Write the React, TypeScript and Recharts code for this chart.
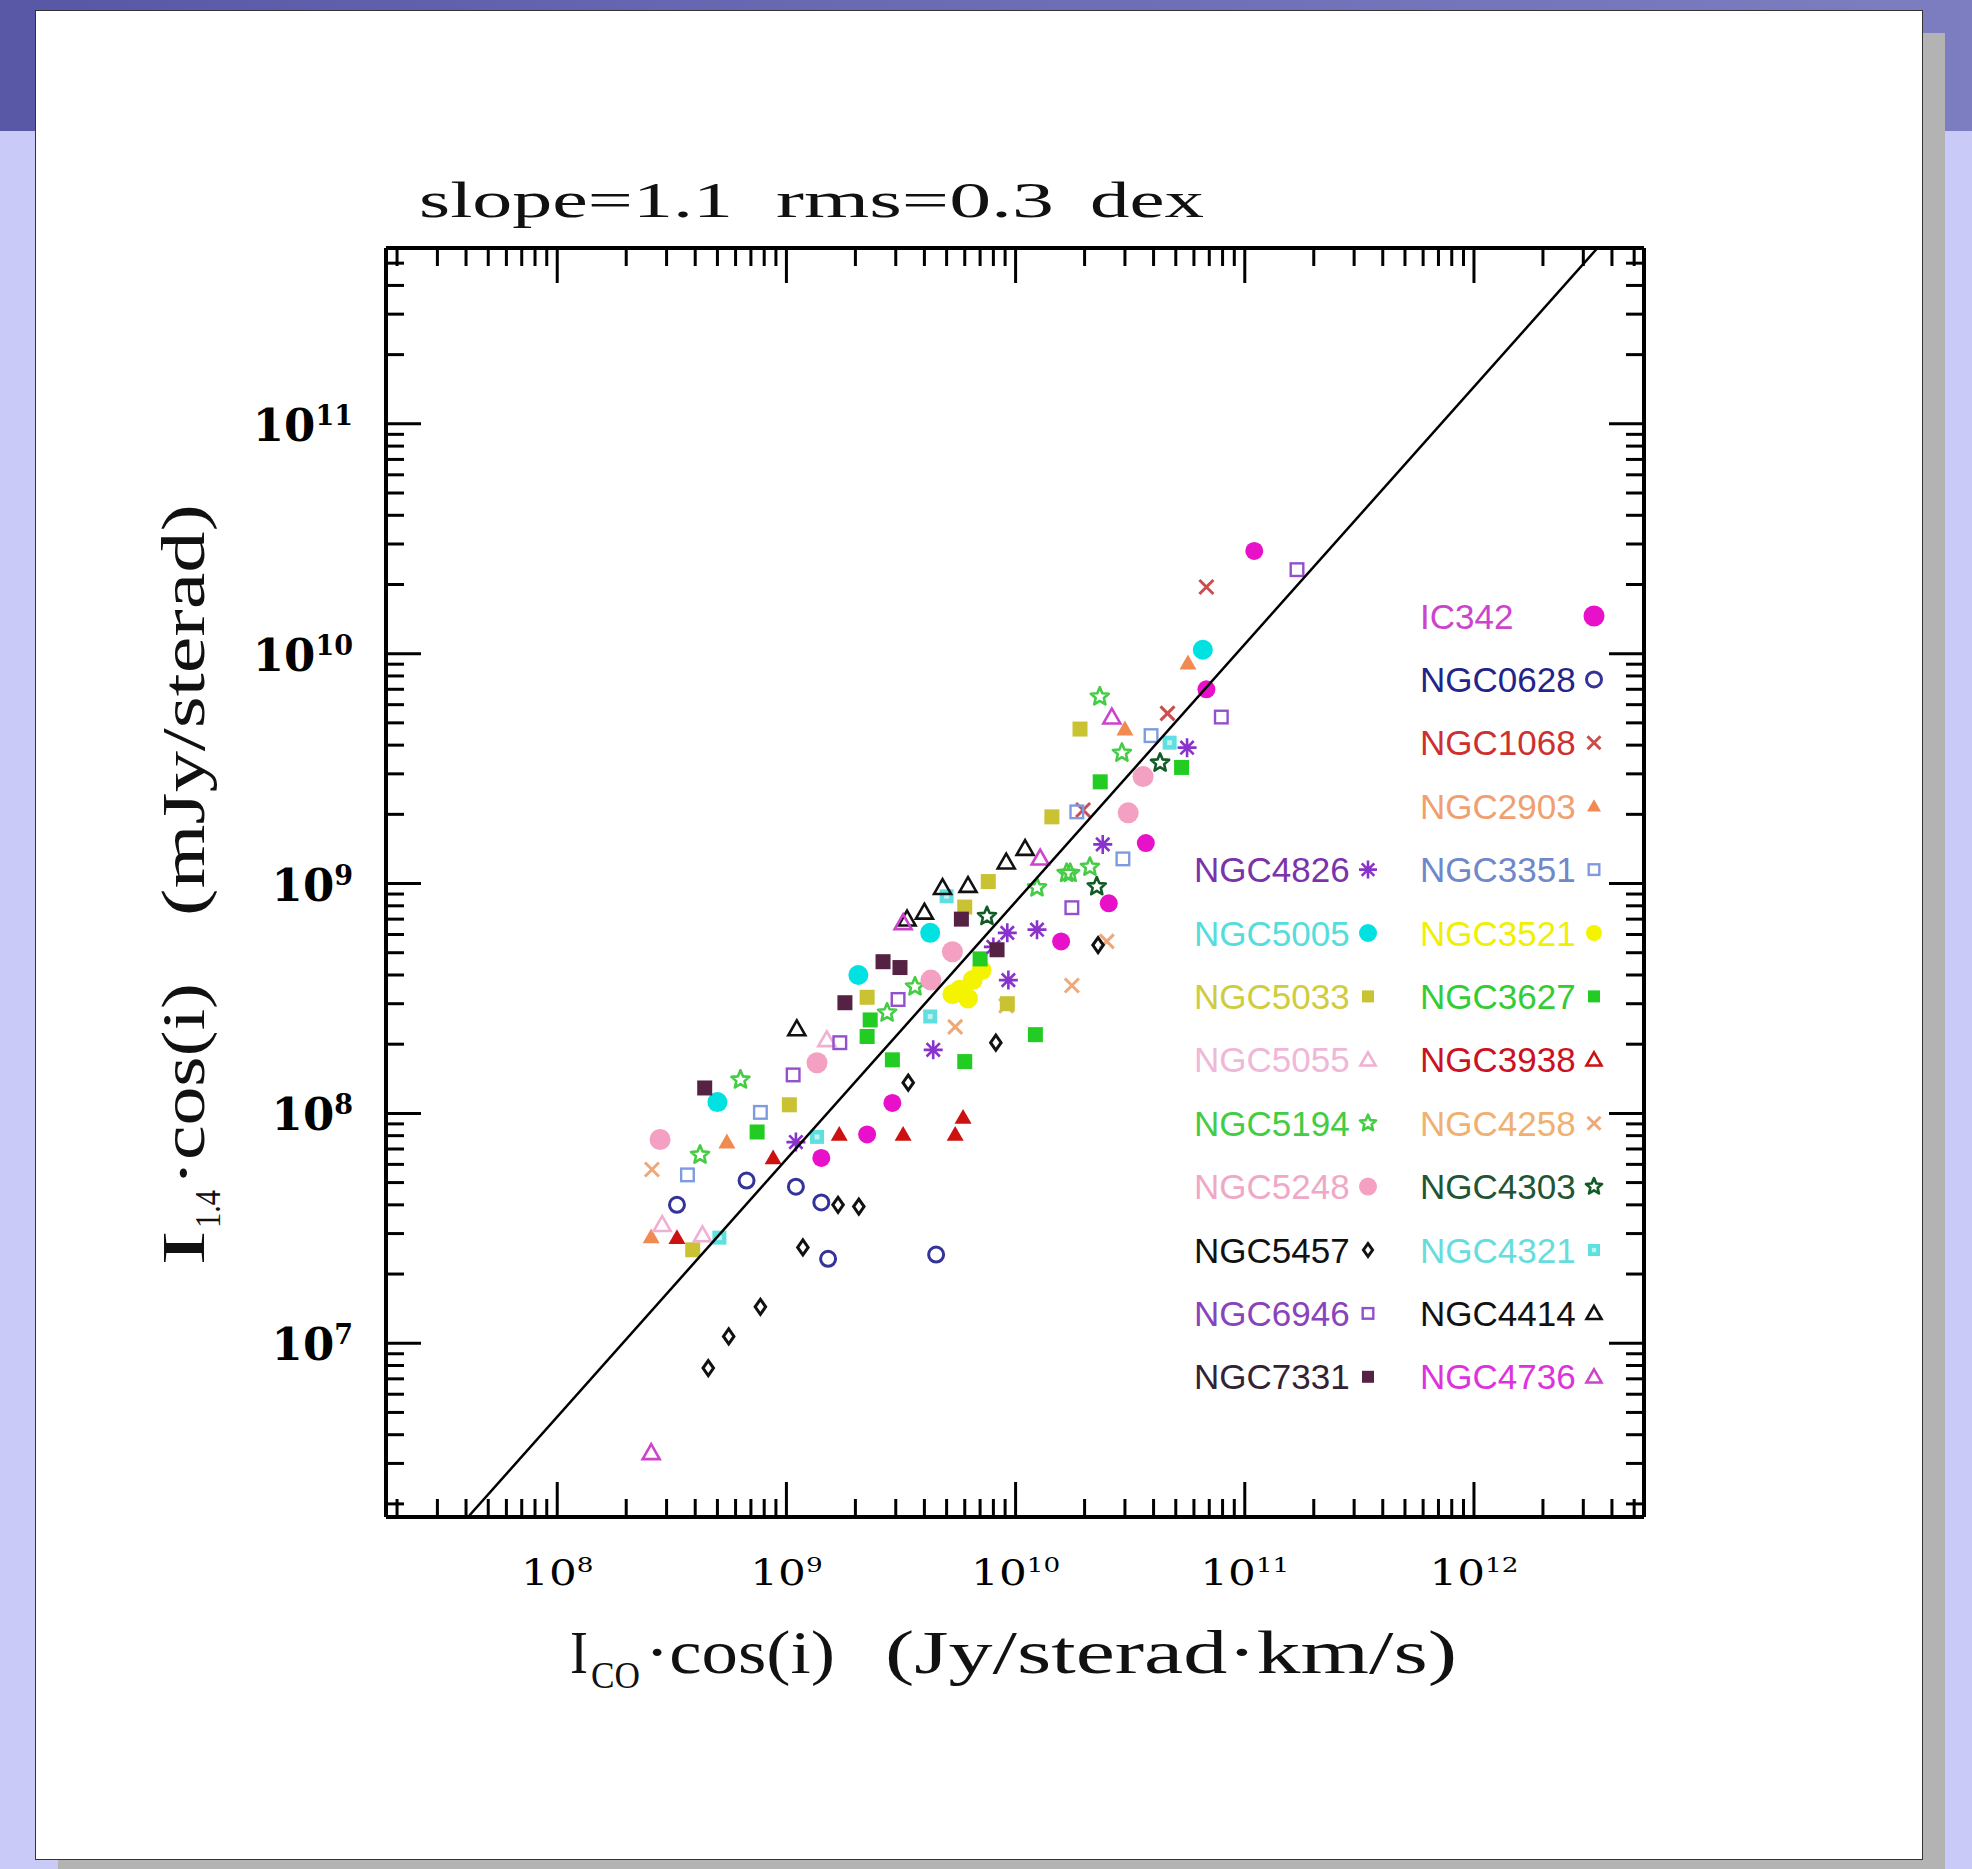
import React from 'react';
import { ScatterChart, Scatter, XAxis, YAxis } from 'recharts';

// ---------- data: [I_CO cos(i) (Jy/sterad km/s), I_1.4 cos(i) (mJy/sterad)] ----------
const IC342 = [[1.1e11, 2.8e10], [6.8e10, 7.0e9], [3.7e10, 1.5e9], [2.55e10, 8.2e8], [1.58e10, 5.6e8], [2.9e9, 1.11e8], [2.25e9, 8.1e7], [1.42e9, 6.4e7]];
const NGC0628 = [[3.33e8, 4.0e7], [6.7e8, 5.1e7], [1.1e9, 4.8e7], [1.42e9, 4.1e7], [1.52e9, 2.33e7], [4.5e9, 2.43e7]];
const NGC1068 = [[6.8e10, 1.95e10], [4.6e10, 5.5e9], [1.97e10, 2.09e9]];
const NGC2903 = [[2.57e8, 2.9e7], [5.5e8, 7.5e7], [5.65e10, 9.1e9], [3.0e10, 4.7e9]];
const NGC3351 = [[3.7e8, 5.4e7], [7.7e8, 1.01e8], [3.9e10, 4.4e9], [1.85e10, 2.05e9], [2.94e10, 1.28e9]];
const NGC3521 = [[5.7e9, 3.45e8], [6.5e9, 3.8e8], [5.3e9, 3.3e8], [6.2e9, 3.16e8], [7.1e9, 4.2e8]];
const NGC3627 = [[7.45e8, 8.3e7], [2.25e9, 2.16e8], [2.9e9, 1.71e8], [6.0e9, 1.68e8], [1.22e10, 2.2e8], [5.3e10, 3.2e9], [7.0e9, 4.7e8], [2.32e9, 2.55e8], [2.34e10, 2.77e9]];
const NGC3938 = [[3.33e8, 2.88e7], [8.75e8, 6.4e7], [1.7e9, 8.1e7], [3.23e9, 8.1e7], [5.45e9, 8.1e7], [5.9e9, 9.6e7]];
const NGC4258 = [[2.59e8, 5.7e7], [1.76e10, 3.6e8], [2.5e10, 5.6e8], [5.45e9, 2.38e8], [9.1e9, 2.94e8]];
const NGC4303 = [[4.27e10, 3.35e9], [2.26e10, 9.7e8], [7.5e9, 7.2e8]];
const NGC4321 = [[5.1e8, 2.88e7], [1.36e9, 7.9e7], [4.24e9, 2.64e8], [4.7e10, 4.1e9], [5.0e9, 8.8e8]];
const NGC4414 = [[1.11e9, 2.33e8], [3.36e9, 7.0e8], [4.0e9, 7.5e8], [4.8e9, 9.6e8], [6.2e9, 9.8e8], [9.1e9, 1.24e9], [1.1e10, 1.42e9]];
const NGC4736 = [[2.57e8, 3.34e6], [2.63e10, 5.3e9], [3.23e9, 6.75e8], [1.28e10, 1.29e9]];
const NGC4826 = [[1.1e9, 7.5e7], [4.37e9, 1.89e8], [9.3e9, 3.8e8], [2.4e10, 1.48e9], [5.6e10, 3.9e9], [1.24e10, 6.3e8], [9.2e9, 6.1e8], [8.0e9, 5.3e8]];
const NGC5005 = [[5.0e8, 1.12e8], [2.06e9, 4.0e8], [4.24e9, 6.1e8], [6.56e10, 1.04e10]];
const NGC5033 = [[3.9e8, 2.55e7], [1.03e9, 1.09e8], [2.25e9, 3.2e8], [7.6e9, 1.02e9], [1.44e10, 1.95e9], [1.91e10, 4.7e9], [9.2e9, 3.0e8], [6.0e9, 7.9e8]];
const NGC5055 = [[2.87e8, 3.28e7], [4.3e8, 2.96e7], [1.5e9, 2.09e8]];
const NGC5194 = [[6.3e8, 1.4e8], [4.2e8, 6.6e7], [2.33e10, 6.5e9], [2.91e10, 3.7e9], [1.67e10, 1.11e9], [2.11e10, 1.18e9], [1.24e10, 9.6e8], [1.73e10, 1.11e9], [2.75e9, 2.74e8], [3.64e9, 3.56e8]];
const NGC5248 = [[2.81e8, 7.7e7], [1.36e9, 1.66e8], [3.1e10, 2.03e9], [3.6e10, 2.92e9], [5.3e9, 5.05e8], [4.27e9, 3.8e8]];
const NGC5457 = [[4.56e8, 7.8e6], [5.6e8, 1.07e7], [7.7e8, 1.44e7], [1.18e9, 2.61e7], [1.68e9, 4.0e7], [2.07e9, 3.93e7], [3.4e9, 1.36e8], [8.2e9, 2.03e8], [2.29e10, 5.4e8]];
const NGC6946 = [[1.69e11, 2.32e10], [7.9e10, 5.3e9], [1.76e10, 7.85e8], [1.71e9, 2.03e8], [1.07e9, 1.47e8], [3.07e9, 3.13e8]];
const NGC7331 = [[4.4e8, 1.29e8], [1.8e9, 3.03e8], [2.64e9, 4.57e8], [3.13e9, 4.31e8], [5.8e9, 7.0e8], [8.3e9, 5.15e8]];

// fitted relation (slope=1.1), end points where it meets the frame
const FIT_LINE = [[4.08e7, 1.754e6], [3.46e12, 5.82e11]];

// axis ranges and ticks
const X_DOMAIN = [1.79e7, 5.52e12];
const Y_DOMAIN = [1.754e6, 5.82e11];
const X_EXPONENTS = [7, 8, 9, 10, 11, 12];
const Y_EXPONENTS = [6, 7, 8, 9, 10, 11];
const MANTISSAS = [1, 2, 3, 4, 5, 6, 7, 8, 9];

const TITLE_WORDS = ['slope=1.1', 'rms=0.3', 'dex'];

// ---------- styles ----------
const W = 1972;
const H = 1869;
const PLOT = { left: 386, right: 1644, top: 248, bottom: 1517 };
const AX = 10;

const SERIES = [
  { name: 'IC342', data: IC342, kind: 'fcircle', color: '#e810c8', text: '#cc44cc', col: 1, row: 0, size: 18, lsize: 21 },
  { name: 'NGC0628', data: NGC0628, kind: 'ocircle', color: '#333399', text: '#23238a', col: 1, row: 1, size: 18, lsize: 18 },
  { name: 'NGC1068', data: NGC1068, kind: 'cross', color: '#cc4d4d', text: '#cc3030', col: 1, row: 2, size: 14, lsize: 13 },
  { name: 'NGC2903', data: NGC2903, kind: 'ftri', color: '#f08a50', text: '#f0a070', col: 1, row: 3, size: 17, lsize: 14 },
  { name: 'NGC3351', data: NGC3351, kind: 'osq', color: '#7f9be0', text: '#7088c8', col: 1, row: 4, size: 15, lsize: 13 },
  { name: 'NGC3521', data: NGC3521, kind: 'fcircle', color: '#f4f400', text: '#f0f000', col: 1, row: 5, size: 20, lsize: 16 },
  { name: 'NGC3627', data: NGC3627, kind: 'fsq', color: '#22cc22', text: '#33cc33', col: 1, row: 6, size: 15, lsize: 12 },
  { name: 'NGC3938', data: NGC3938, kind: 'ftri', color: '#cc1111', text: '#cc1122', col: 1, row: 7, size: 17, lsize: 15, legendKind: 'otri' },
  { name: 'NGC4258', data: NGC4258, kind: 'cross', color: '#f0a878', text: '#f0b070', col: 1, row: 8, size: 14, lsize: 13 },
  { name: 'NGC4303', data: NGC4303, kind: 'ostar', color: '#125a26', text: '#225533', col: 1, row: 9, size: 19, lsize: 17 },
  { name: 'NGC4321', data: NGC4321, kind: 'cmd', color: '#5fe0e0', text: '#66dddd', col: 1, row: 10, size: 14, lsize: 12 },
  { name: 'NGC4414', data: NGC4414, kind: 'otri', color: '#111111', text: '#111111', col: 1, row: 11, size: 17, lsize: 15 },
  { name: 'NGC4736', data: NGC4736, kind: 'otri', color: '#cc44cc', text: '#dd33dd', col: 1, row: 12, size: 17, lsize: 15 },
  { name: 'NGC4826', data: NGC4826, kind: 'aster', color: '#8a33cc', text: '#7a33aa', col: 0, row: 4, size: 19, lsize: 18 },
  { name: 'NGC5005', data: NGC5005, kind: 'fcircle', color: '#00e2e2', text: '#55dddd', col: 0, row: 5, size: 20, lsize: 18 },
  { name: 'NGC5033', data: NGC5033, kind: 'fsq', color: '#c9c232', text: '#d0cc40', col: 0, row: 6, size: 15, lsize: 12 },
  { name: 'NGC5055', data: NGC5055, kind: 'otri', color: '#f0b0d4', text: '#f0b8d8', col: 0, row: 7, size: 17, lsize: 15 },
  { name: 'NGC5194', data: NGC5194, kind: 'ostar', color: '#44cc44', text: '#44cc44', col: 0, row: 8, size: 19, lsize: 17 },
  { name: 'NGC5248', data: NGC5248, kind: 'fcircle', color: '#f3a0c2', text: '#f0a8c8', col: 0, row: 9, size: 21, lsize: 18 },
  { name: 'NGC5457', data: NGC5457, kind: 'diamond', color: '#111111', text: '#111111', col: 0, row: 10, size: 15, lsize: 13 },
  { name: 'NGC6946', data: NGC6946, kind: 'osq', color: '#9350cc', text: '#8844bb', col: 0, row: 11, size: 15, lsize: 13 },
  { name: 'NGC7331', data: NGC7331, kind: 'fsq', color: '#552244', text: '#332233', col: 0, row: 12, size: 15, lsize: 12 },
];

const LEGEND_ROW0 = 616;
const LEGEND_STEP = 63.4;
const LEGEND_TEXT_X = [1194, 1420];
const LEGEND_SYM_X = [1368, 1594];

const MAJOR_LEN = 35;
const MINOR_LEN = 18;

// ---------- helpers ----------
const buildTicks = (exps: number[], lo: number, hi: number) => {
  const out: number[] = [];
  exps.forEach((e) => MANTISSAS.forEach((m) => {
    const v = m * Math.pow(10, e);
    if (v >= lo && v <= hi) out.push(v);
  }));
  return out;
};
const X_TICKS = buildTicks(X_EXPONENTS, X_DOMAIN[0], X_DOMAIN[1]);
const Y_TICKS = buildTicks(Y_EXPONENTS, Y_DOMAIN[0], Y_DOMAIN[1]);

const isMajor = (v: number) => {
  const l = Math.log10(v);
  return Math.abs(l - Math.round(l)) < 1e-6;
};
const expOf = (v: number) => Math.round(Math.log10(v));

function starPath(cx: number, cy: number, R: number) {
  const r = R * 0.45;
  let d = '';
  for (let i = 0; i < 10; i++) {
    const a = -Math.PI / 2 + (i * Math.PI) / 5;
    const rad = i % 2 === 0 ? R : r;
    d += `${i === 0 ? 'M' : 'L'}${cx + rad * Math.cos(a)},${cy + rad * Math.sin(a)}`;
  }
  return d + 'Z';
}

function Marker({ kind, color, cx, cy, s }: any) {
  if (cx == null || cy == null) return <g />;
  const h = s / 2;
  switch (kind) {
    case 'fcircle':
      return <circle cx={cx} cy={cy} r={h} fill={color} />;
    case 'ocircle':
      return <circle cx={cx} cy={cy} r={h - 1.5} fill="none" stroke={color} strokeWidth={3} />;
    case 'cross':
      return (
        <path d={`M${cx - h},${cy - h}L${cx + h},${cy + h}M${cx - h},${cy + h}L${cx + h},${cy - h}`} stroke={color} strokeWidth={3} fill="none" />
      );
    case 'ftri':
      return <path d={`M${cx},${cy - h}L${cx + h},${cy + h * 0.75}L${cx - h},${cy + h * 0.75}Z`} fill={color} />;
    case 'otri':
      return (
        <path d={`M${cx},${cy - h}L${cx + h},${cy + h * 0.75}L${cx - h},${cy + h * 0.75}Z`} fill="none" stroke={color} strokeWidth={2.6} strokeLinejoin="miter" />
      );
    case 'fsq':
      return <rect x={cx - h} y={cy - h} width={s} height={s} fill={color} />;
    case 'osq':
      return <rect x={cx - h + 1.2} y={cy - h + 1.2} width={s - 2.4} height={s - 2.4} fill="none" stroke={color} strokeWidth={2.4} />;
    case 'ostar':
      return <path d={starPath(cx, cy, h)} fill="none" stroke={color} strokeWidth={2.6} strokeLinejoin="round" />;
    case 'aster':
      return (
        <path
          d={`M${cx - h},${cy}L${cx + h},${cy}M${cx},${cy - h}L${cx},${cy + h}M${cx - h * 0.7},${cy - h * 0.7}L${cx + h * 0.7},${cy + h * 0.7}M${cx - h * 0.7},${cy + h * 0.7}L${cx + h * 0.7},${cy - h * 0.7}`}
          stroke={color}
          strokeWidth={2.6}
          fill="none"
        />
      );
    case 'diamond':
      return <path d={`M${cx},${cy - h}L${cx + h * 0.7},${cy}L${cx},${cy + h}L${cx - h * 0.7},${cy}Z`} fill="none" stroke={color} strokeWidth={3} />;
    case 'cmd':
      return (
        <g>
          <rect x={cx - h} y={cy - h} width={s} height={s} fill={color} />
          <rect x={cx - h * 0.35} y={cy - h * 0.35} width={s * 0.35} height={s * 0.35} fill="#ffffff" opacity={0.6} />
        </g>
      );
    default:
      return <g />;
  }
}

// ---------- axis ticks (drawn inward, all four sides) ----------
const BottomTick = (props: any) => {
  const { x, y, payload } = props;
  const v = payload.value;
  const major = isMajor(v);
  return (
    <g>
      <line x1={x} x2={x} y1={y} y2={y - (major ? MAJOR_LEN : MINOR_LEN)} stroke="#000" strokeWidth={3} />
      {major && (
        <g transform={`translate(${x},${y + 68}) scale(1.25,1)`}>
          <text x={0} y={0} textAnchor="middle" fontFamily="DejaVu Serif" fontSize={35} fill="#000">
            10<tspan dy={-13} fontSize={21}>{expOf(v)}</tspan>
          </text>
        </g>
      )}
    </g>
  );
};

const TopTick = (props: any) => {
  const { x, y, payload } = props;
  const major = isMajor(payload.value);
  return <line x1={x} x2={x} y1={y} y2={y + (major ? MAJOR_LEN : MINOR_LEN)} stroke="#000" strokeWidth={3} />;
};

const LeftTick = (props: any) => {
  const { x, y, payload } = props;
  const v = payload.value;
  const major = isMajor(v);
  return (
    <g>
      <line x1={x} x2={x + (major ? MAJOR_LEN : MINOR_LEN)} y1={y} y2={y} stroke="#000" strokeWidth={3} />
      {major && (
        <text x={x - 33} y={y + 17} textAnchor="end" fontFamily="DejaVu Serif" fontWeight="bold" fontSize={45} fill="#000">
          10<tspan dy={-16} fontSize={27}>{expOf(v)}</tspan>
        </text>
      )}
    </g>
  );
};

const RightTick = (props: any) => {
  const { x, y, payload } = props;
  const major = isMajor(payload.value);
  return <line x1={x} x2={x - (major ? MAJOR_LEN : MINOR_LEN)} y1={y} y2={y} stroke="#000" strokeWidth={3} />;
};

const toPoints = (arr: number[][]) => arr.map(([x, y]) => ({ x, y }));

export default function App() {
  const axisLine = { stroke: '#000', strokeWidth: 4 };
  return (
    <div style={{ position: 'absolute', left: 0, top: 0, width: W, height: H, overflow: 'hidden', background: '#cacaf8' }}>
      {/* slide background */}
      <div style={{ position: 'absolute', left: 0, top: 0, width: W, height: 131, background: 'linear-gradient(90deg, #5757a6 0%, #6c6cb6 50%, #7d7dc1 100%)' }} />
      <div style={{ position: 'absolute', left: 58, top: 33, width: 1887, height: 1850, background: '#b3b3b3' }} />
      <div style={{ position: 'absolute', left: 35, top: 10, width: 1886, height: 1848, background: '#ffffff', border: '1px solid #333' }} />

      <div style={{ position: 'absolute', left: 0, top: 0 }}>
        <ScatterChart
          width={W}
          height={H}
          margin={{ top: PLOT.top - AX, bottom: H - PLOT.bottom - AX, left: PLOT.left - AX, right: W - PLOT.right - AX }}
        >
          <XAxis xAxisId="b" orientation="bottom" type="number" dataKey="x" scale="log" domain={X_DOMAIN} allowDataOverflow ticks={X_TICKS} interval={0} height={AX} tickSize={0} tickMargin={0} tickLine={false} axisLine={axisLine} tick={<BottomTick />} />
          <XAxis xAxisId="t" orientation="top" type="number" dataKey="x" scale="log" domain={X_DOMAIN} allowDataOverflow ticks={X_TICKS} interval={0} height={AX} tickSize={0} tickMargin={0} tickLine={false} axisLine={axisLine} tick={<TopTick />} />
          <YAxis yAxisId="l" orientation="left" type="number" dataKey="y" scale="log" domain={Y_DOMAIN} allowDataOverflow ticks={Y_TICKS} interval={0} width={AX} tickSize={0} tickMargin={0} tickLine={false} axisLine={axisLine} tick={<LeftTick />} />
          <YAxis yAxisId="r" orientation="right" type="number" dataKey="y" scale="log" domain={Y_DOMAIN} allowDataOverflow ticks={Y_TICKS} interval={0} width={AX} tickSize={0} tickMargin={0} tickLine={false} axisLine={axisLine} tick={<RightTick />} />

          {SERIES.map((s) => (
            <Scatter
              key={s.name}
              name={s.name}
              xAxisId="b"
              yAxisId="l"
              data={toPoints(s.data)}
              isAnimationActive={false}
              shape={(p: any) => <Marker kind={s.kind} color={s.color} cx={p.cx} cy={p.cy} s={s.size} />}
            />
          ))}
          <Scatter
            name="fit"
            xAxisId="b"
            yAxisId="l"
            data={toPoints(FIT_LINE)}
            isAnimationActive={false}
            line={{ stroke: '#000', strokeWidth: 2.5 }}
            shape={() => <g />}
          />
          {/* invisible series bound to the top/right axes */}
          <Scatter name="frame" xAxisId="t" yAxisId="r" data={toPoints(FIT_LINE)} isAnimationActive={false} shape={() => <g />} />
        </ScatterChart>
      </div>

      {/* titles and legend */}
      <svg width={W} height={H} style={{ position: 'absolute', left: 0, top: 0, pointerEvents: 'none' }}>
        <g fontFamily="Liberation Serif" fill="#111">
          <text x={419} y={217} fontSize={50} textLength={314} lengthAdjust="spacingAndGlyphs">{TITLE_WORDS[0]}</text>
          <text x={776} y={217} fontSize={50} textLength={278} lengthAdjust="spacingAndGlyphs">{TITLE_WORDS[1]}</text>
          <text x={1090} y={217} fontSize={50} textLength={114} lengthAdjust="spacingAndGlyphs">{TITLE_WORDS[2]}</text>

          {/* x-axis title */}
          <text x={570} y={1673} fontSize={62} textLength={18} lengthAdjust="spacingAndGlyphs">I</text>
          <text x={591} y={1688} fontSize={38} textLength={49} lengthAdjust="spacingAndGlyphs">CO</text>
          <text x={645} y={1673} fontSize={62} textLength={190} lengthAdjust="spacingAndGlyphs">·cos(i)</text>
          <text x={885} y={1673} fontSize={62} textLength={572} lengthAdjust="spacingAndGlyphs">(Jy/sterad·km/s)</text>

          {/* y-axis title (rotated) */}
          <text transform="translate(204,1266) rotate(-90)" x={0} y={0} fontSize={62} textLength={36} lengthAdjust="spacingAndGlyphs">I</text>
          <text transform="translate(220,1228) rotate(-90)" x={0} y={0} fontSize={36} textLength={38} lengthAdjust="spacingAndGlyphs">1.4</text>
          <text transform="translate(204,1186) rotate(-90)" x={0} y={0} fontSize={62} textLength={203} lengthAdjust="spacingAndGlyphs">·cos(i)</text>
          <text transform="translate(204,916) rotate(-90)" x={0} y={0} fontSize={62} textLength={412} lengthAdjust="spacingAndGlyphs">(mJy/sterad)</text>
        </g>

        <g>
          {SERIES.map((s) => {
            const cy = LEGEND_ROW0 + s.row * LEGEND_STEP;
            return (
              <g key={s.name}>
                <text x={LEGEND_TEXT_X[s.col]} y={cy + 12.5} fontFamily="Liberation Sans" fontSize={35} fill={s.text}>
                  {s.name}
                </text>
                <Marker kind={(s as any).legendKind || s.kind} color={s.color} cx={LEGEND_SYM_X[s.col]} cy={cy} s={s.lsize} />
              </g>
            );
          })}
        </g>
      </svg>
    </div>
  );
}
